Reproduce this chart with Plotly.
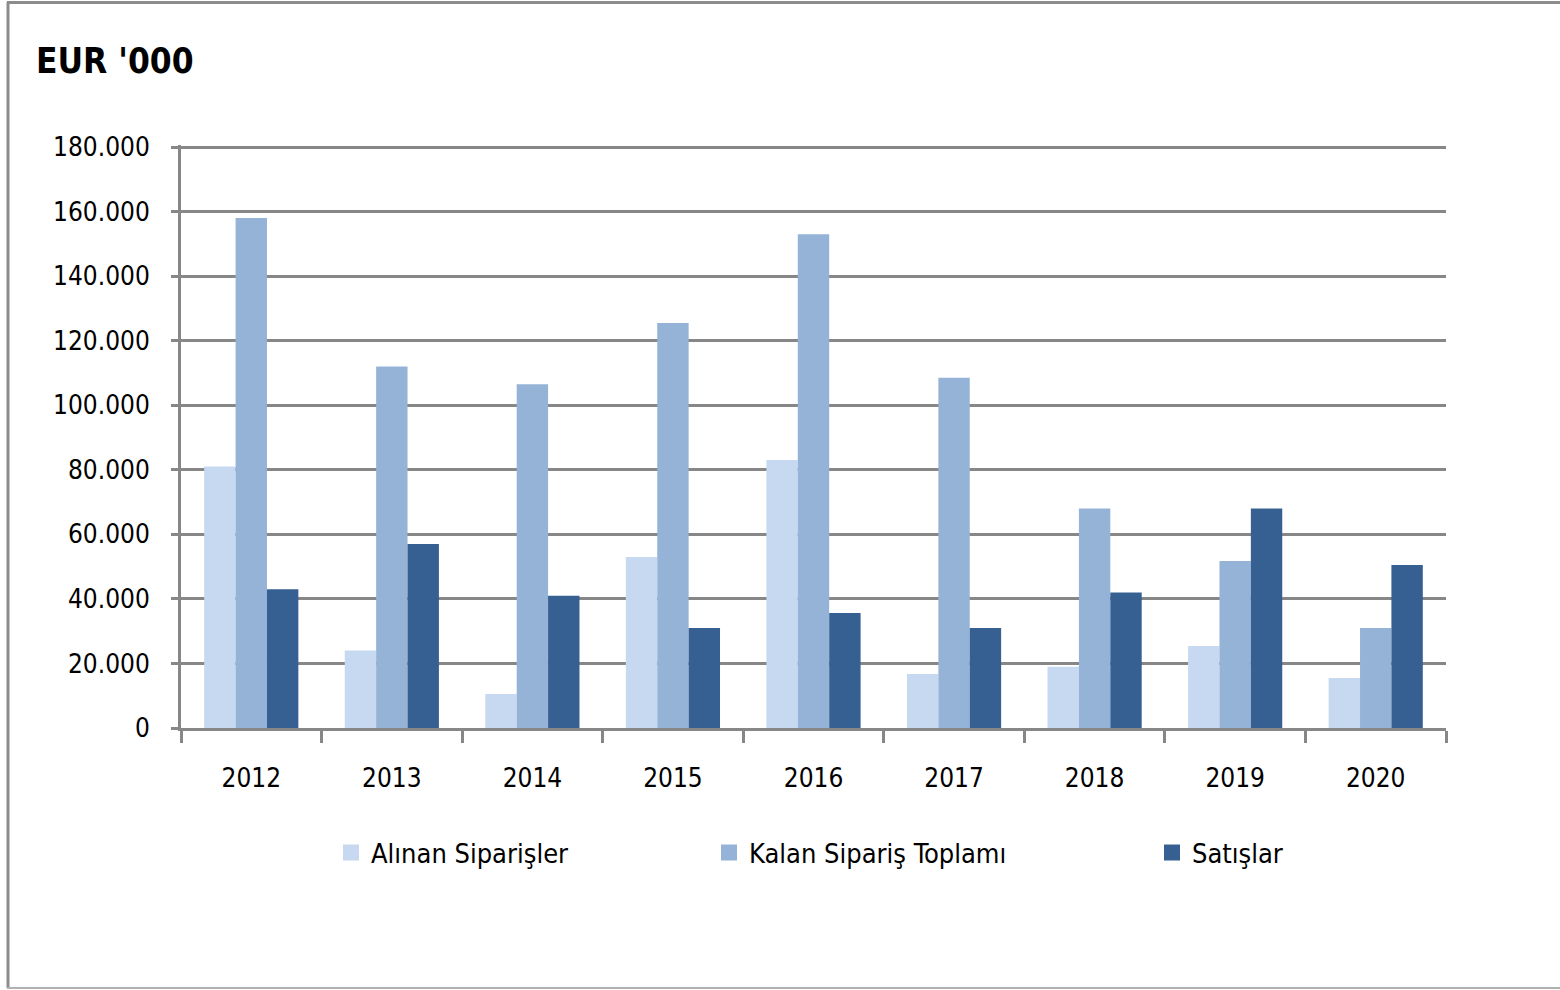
import plotly.graph_objects as go

years = ["2012", "2013", "2014", "2015", "2016", "2017", "2018", "2019", "2020"]
alinan = [81000, 24000, 10500, 53000, 83000, 16700, 19000, 25400, 15500]
kalan = [158000, 112000, 106500, 125500, 153000, 108500, 68000, 51700, 31000]
satislar = [43000, 57000, 41000, 31000, 35600, 31000, 42000, 68000, 50500]

names = ["Alınan Siparişler", "Kalan Sipariş Toplamı", "Satışlar"]
colors = ["#C6D9F1", "#95B3D7", "#366092"]
y_ticks = [0, 20000, 40000, 60000, 80000, 100000, 120000, 140000, 160000, 180000]

FONT = "DejaVu Sans Condensed, Liberation Sans Narrow, sans-serif"
W, H = 1560, 990
# plot area: x 181..1446, y 145..728 (180.000 gridline at 147)
L, R, T, B = 181, 1560 - 1446, 145, 990 - 728
pw, ph = W - L - R, H - T - B
Y_MAX = 180000 * ph / (728 - 147)


def px_x(p):
    return (p - L) / pw


def px_y(p):
    return (H - B - p) / ph


fig = go.Figure()
legend_ids = ["legend", "legend2", "legend3"]
for name, vals, col in zip(names, [alinan, kalan, satislar], colors):
    fig.add_trace(go.Bar(x=years, y=vals, name=name, marker=dict(color=col, line=dict(width=0)),
                         showlegend=False))
for name, col, lg in zip(names, colors, legend_ids):
    fig.add_trace(go.Scatter(x=[None], y=[None], mode="markers", name=name, legend=lg,
                             marker=dict(symbol="square", size=18, color=col), showlegend=True))

legend_px = [331, 709, 1152]
legend_common = dict(orientation="h", yanchor="middle", xanchor="left",
                     font=dict(family=FONT, size=27, color="#000000"),
                     bgcolor="rgba(0,0,0,0)", itemwidth=30, visible=True)
fig.update_layout(
    width=W, height=H,
    margin=dict(l=L, r=R, t=T, b=B, pad=0),
    paper_bgcolor="white", plot_bgcolor="white",
    separators=",.",
    showlegend=True,
    barmode="group", bargap=0.33, bargroupgap=0,
    font=dict(family=FONT, size=26, color="#000000"),
    title=dict(text="<b>EUR '000</b>", x=36 / W, xref="container", xanchor="left",
               y=1 - 61 / H, yref="container", yanchor="middle",
               font=dict(family=FONT, size=35, color="#000000")),
    legend=dict(x=px_x(legend_px[0]), y=px_y(853), **legend_common),
    legend2=dict(x=px_x(legend_px[1]), y=px_y(853), **legend_common),
    legend3=dict(x=px_x(legend_px[2]), y=px_y(853), **legend_common),
    xaxis=dict(type="category", tickson="boundaries", ticks="outside", ticklen=12,
               tickwidth=3, tickcolor="#878787", showline=True, linecolor="#878787",
               linewidth=3, showgrid=False, ticklabelstandoff=25,
               tickfont=dict(family=FONT, size=26, color="#000000")),
    yaxis=dict(range=[0, Y_MAX], tickvals=y_ticks, tickformat=",d", ticks="outside",
               ticklen=7, tickwidth=3, tickcolor="#878787", showline=True,
               linecolor="#878787", linewidth=3, showgrid=True, gridcolor="#878787",
               gridwidth=3, zeroline=False, ticklabelstandoff=16,
               tickfont=dict(family=FONT, size=26, color="#000000")),
    shapes=[
        dict(type="line", xref="paper", yref="paper", x0=px_x(8), x1=px_x(8),
             y0=px_y(2), y1=px_y(988), line=dict(color="#8C8C8C", width=3)),
        dict(type="line", xref="paper", yref="paper", x0=px_x(7), x1=px_x(1562),
             y0=px_y(2.5), y1=px_y(2.5), line=dict(color="#8C8C8C", width=3)),
        dict(type="line", xref="paper", yref="paper", x0=px_x(7), x1=px_x(1562),
             y0=px_y(988), y1=px_y(988), line=dict(color="#B0B0B0", width=2)),
    ],
)

fig.write_html("out.html", config={"displayModeBar": False},
               post_script="document.body.style.margin='0';")
